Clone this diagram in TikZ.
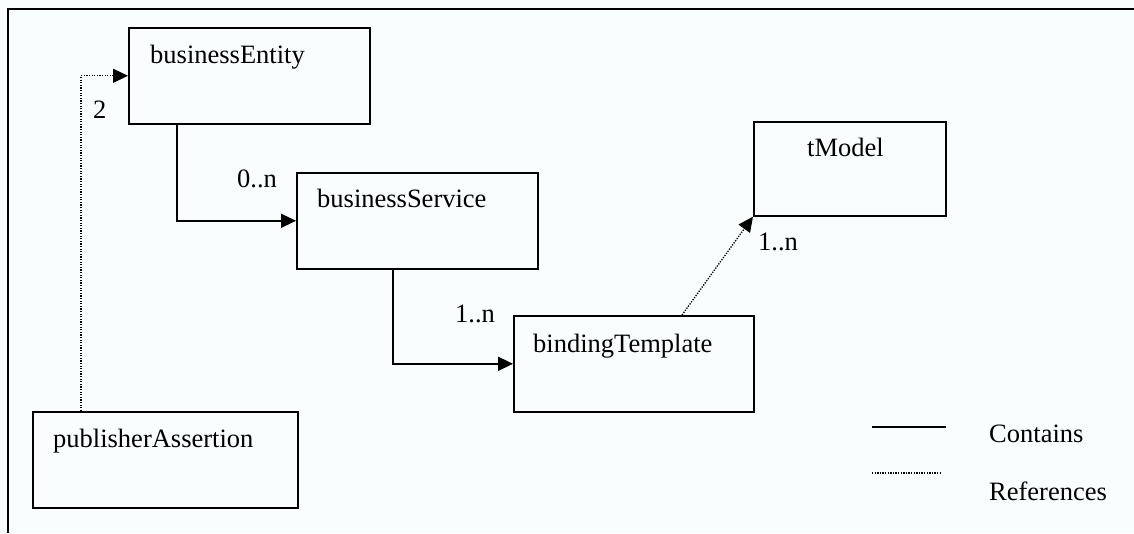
\documentclass[tikz,border=0pt]{standalone}
\usepackage{fontspec}
\setmainfont{Liberation Serif}
\usetikzlibrary{arrows.meta}
\definecolor{bgc}{RGB}{249,253,253}
\tikzset{
  x=1pt, y=-1pt,
  box/.style={draw, line width=1.6pt, minimum width=241pt, minimum height=96pt, inner sep=0pt, anchor=north west},
  txt/.style={anchor=base west, inner sep=0pt, font=\fontsize{26.5pt}{30pt}\selectfont},
  contains/.style={line width=1.6pt, -{Triangle[length=15pt,width=14pt]}},
  refers/.style={line width=1.3pt, dash pattern=on 1.3pt off 1.3pt, -{Triangle[length=15pt,width=14pt]}},
}
\begin{document}
\begin{tikzpicture}
\fill[bgc] (0,0) rectangle (1134,533);
\useasboundingbox (0,0) rectangle (1134,533);
\draw[line width=2.2pt] (8,533) -- (8,9) -- (1134,9);

\node[box] (be) at (128,27) {};
\node[box] (bs) at (296,172) {};
\node[box, minimum width=240pt] (bt) at (513,315) {};
\node[box, minimum width=192pt, minimum height=94pt] (tm) at (753,121) {};
\node[box, minimum width=265pt] (pa) at (32,411) {};

\node[txt] (tbe) at (150,63) {businessEntity};
\node[txt] (tbs) at (317,207) {businessService};
\node[txt] (tbt) at (533,352) {bindingTemplate};
\node[txt] (ttm) at (807,156) {tModel};
\node[txt] (tpa) at (53,447) {publisherAssertion};

\node[txt] (l2) at (93,118) {2};
\node[txt] (l0n) at (237,187) {0..n};
\node[txt] (l1n) at (455,322) {1..n};
\node[txt] (l1nb) at (758,250) {1..n};

\draw[refers] ([xshift=49pt]pa.north west) |- (be.west);
\draw[contains] ([xshift=49pt]be.south west) |- (bs.west);
\draw[contains] ([xshift=97pt]bs.south west) |- (bt.west);
\draw[refers] ([xshift=169pt]bt.north west) -- (tm.south west);

\coordinate (c1) at (872,427);
\coordinate (c2) at (946,427);
\coordinate (r1) at (872,473);
\coordinate (r2) at (942,473);
\draw[line width=1.6pt] (c1) -- (c2);
\draw[line width=1.3pt, dash pattern=on 1.3pt off 1.3pt] (r1) -- (r2);
\node[txt] (lc) at (989,442) {Contains};
\node[txt] (lr) at (989,500) {References};
\end{tikzpicture}
\end{document}
